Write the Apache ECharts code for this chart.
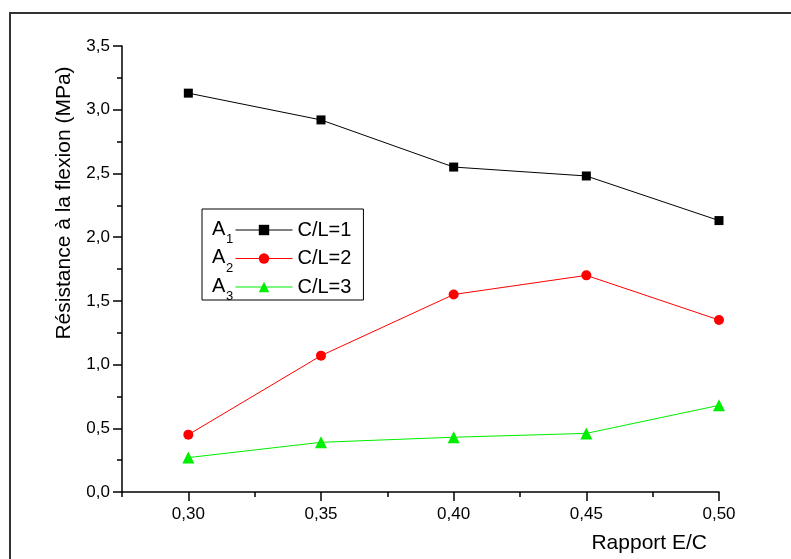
<!DOCTYPE html>
<html>
<head>
<meta charset="utf-8">
<script src="https://cdn.jsdelivr.net/npm/echarts@6/dist/echarts.min.js"></script>
<style>
  html, body { margin: 0; padding: 0; background: #fff; }
  #chart { width: 791px; height: 559px; }
</style>
</head>
<body>
<div id="chart"></div>
<script>
// rapport E/C
var ratios = [0.30, 0.35, 0.40, 0.45, 0.50];
// résistance à la flexion (MPa)
var serieA1 = [3.13, 2.92, 2.55, 2.48, 2.13];
var serieA2 = [0.45, 1.07, 1.55, 1.70, 1.35];
var serieA3 = [0.27, 0.39, 0.43, 0.46, 0.68];
var seriesNames = ["C/L=1", "C/L=2", "C/L=3"];
var seriesTags = ["1", "2", "3"];
var xMajorTicks = [0.30, 0.35, 0.40, 0.45, 0.50];
var xMinorTicks = [0.275, 0.325, 0.375, 0.425, 0.475];

var FONT = "'Liberation Sans', Arial, sans-serif";

function pairs(ys) {
  return ratios.map(function (x, i) { return [x, ys[i]]; });
}

function comma(v, d) {
  return v.toFixed(d).replace(".", ",");
}

var myChart = echarts.init(document.getElementById("chart"));

// petites étiquettes "A1, A2, A3" à gauche de la légende
var rowY = [230, 258.5, 287];
var tagGraphics = [];
seriesTags.forEach(function (t, i) {
  tagGraphics.push({
    type: "text", left: 212, top: rowY[i] - 11,
    style: { text: "A", font: "20px " + FONT, fill: "#000" }
  });
  tagGraphics.push({
    type: "text", left: 226, top: rowY[i] + 3,
    style: { text: t, font: "13px " + FONT, fill: "#000" }
  });
});

myChart.setOption({
  animation: false,
  backgroundColor: "#fff",
  graphic: [
    {
      type: "rect", z: -10,
      shape: { x: 10, y: 13, width: 900, height: 700 },
      style: { fill: "none", stroke: "#333", lineWidth: 2 }
    },
    {
      type: "text", x: 64, y: 203, rotation: Math.PI / 2,
      style: {
        text: "Résistance à la flexion (MPa)", font: "21px " + FONT,
        fill: "#000", align: "center", verticalAlign: "middle"
      }
    },
    {
      type: "text", x: 707, y: 543,
      style: {
        text: "Rapport E/C", font: "21px " + FONT,
        fill: "#000", align: "right", verticalAlign: "middle"
      }
    }
  ].concat(tagGraphics),
  legend: {
    orient: "vertical",
    left: 202,
    top: 209,
    padding: [10, 12, 2, 33],
    borderColor: "#000",
    borderWidth: 1,
    itemWidth: 57,
    itemHeight: 13,
    itemGap: 6.5,
    lineStyle: { width: 1 },
    data: seriesNames,
    textStyle: { fontFamily: FONT, fontSize: 20, color: "#000", lineHeight: 22 }
  },
  grid: { left: 122, top: 46, right: 72, bottom: 67, containLabel: false },
  xAxis: [
    {
      type: "value",
      min: 0.275,
      max: 0.5,
      axisLine: { lineStyle: { color: "#000", width: 1.5 } },
      axisTick: { customValues: xMajorTicks, length: 9, lineStyle: { color: "#000", width: 1.5 } },
      axisLabel: {
        customValues: xMajorTicks, margin: 14, color: "#000",
        fontFamily: FONT, fontSize: 17,
        formatter: function (v) { return comma(v, 2); }
      },
      splitLine: { show: false }
    },
    {
      type: "value",
      min: 0.275,
      max: 0.5,
      position: "bottom",
      axisLine: { show: false },
      axisTick: { customValues: xMinorTicks, length: 5, lineStyle: { color: "#000", width: 1.5 } },
      axisLabel: { show: false },
      splitLine: { show: false }
    }
  ],
  yAxis: {
    type: "value",
    min: 0,
    max: 3.5,
    interval: 0.5,
    axisLine: { show: true, lineStyle: { color: "#000", width: 1.5 } },
    axisTick: { show: true, length: 9, lineStyle: { color: "#000", width: 1.5 } },
    minorTick: { show: true, splitNumber: 2, length: 5, lineStyle: { color: "#000", width: 1.5 } },
    axisLabel: {
      margin: 12, color: "#000", fontFamily: FONT, fontSize: 17,
      formatter: function (v) { return comma(v, 1); }
    },
    splitLine: { show: false }
  },
  series: [
    {
      name: seriesNames[0], type: "line", data: pairs(serieA1),
      symbol: "rect", symbolSize: 9, clip: false,
      itemStyle: { color: "#000" }, lineStyle: { color: "#000", width: 1 }
    },
    {
      name: seriesNames[1], type: "line", data: pairs(serieA2),
      symbol: "circle", symbolSize: 10, clip: false,
      itemStyle: { color: "#ff0000" }, lineStyle: { color: "#ff0000", width: 1 }
    },
    {
      name: seriesNames[2], type: "line", data: pairs(serieA3),
      symbol: "triangle", symbolSize: 12, clip: false,
      itemStyle: { color: "#00ee00" }, lineStyle: { color: "#00ee00", width: 1 }
    }
  ]
});
</script>
</body>
</html>
